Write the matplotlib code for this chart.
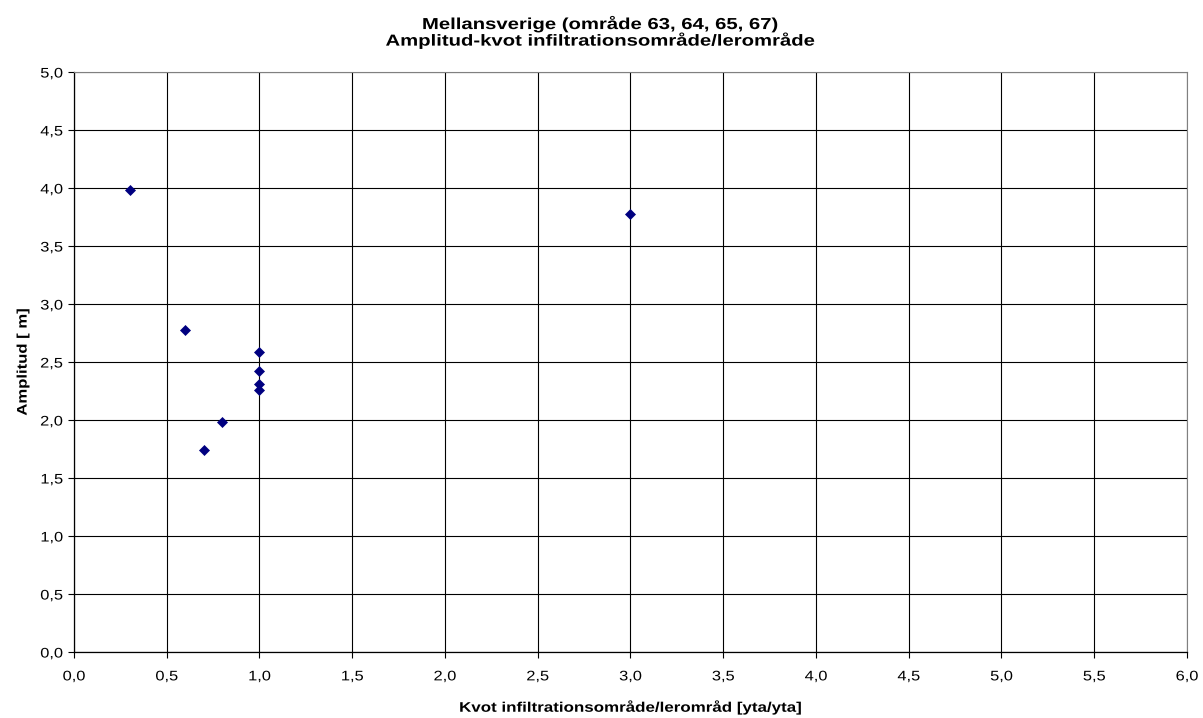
import matplotlib
matplotlib.use("Agg")
import matplotlib.pyplot as plt
from matplotlib.ticker import MultipleLocator, FuncFormatter
from matplotlib.patheffects import AbstractPathEffect
from matplotlib.transforms import Affine2D

# Ratio of infiltration area to clay area and the observed amplitude
kvot = [0.3, 0.6, 0.7, 0.8, 1.0, 1.0, 1.0, 1.0, 3.0]
amplitud = [3.98, 2.78, 1.74, 1.98, 2.59, 2.42, 2.31, 2.26, 3.78]

title_lines = ["Mellansverige (område 63, 64, 65, 67)",
               "Amplitud-kvot infiltrationsområde/lerområde"]
x_label = "Kvot infiltrationsområde/lerområd [yta/yta]"
y_label = "Amplitud [ m]"

plt.rcParams["font.family"] = ["Liberation Sans", "DejaVu Sans"]


class Widen(AbstractPathEffect):
    """Draw text glyphs stretched along the text direction."""

    def __init__(self, factor, anchor="center"):
        super().__init__()
        self.factor = factor
        self.anchor = anchor

    def draw_path(self, renderer, gc, tpath, affine, rgbFace=None):
        ext = tpath.get_extents()
        if self.anchor == "right":
            ax0 = ext.x1
        elif self.anchor == "left":
            ax0 = ext.x0
        else:
            ax0 = 0.5 * (ext.x0 + ext.x1)
        stretch = Affine2D().translate(-ax0, 0).scale(self.factor, 1).translate(ax0, 0)
        renderer.draw_path(gc, tpath, stretch + affine, rgbFace)


fig = plt.figure(figsize=(12.03, 7.18), dpi=100)
ax = fig.add_axes([0.0615, 0.0919, 0.9252, 0.8078])

ax.plot(kvot, amplitud, linestyle="none", marker="D", markersize=5.2,
        markerfacecolor="#000080", markeredgecolor="#000080",
        markeredgewidth=0.5, zorder=3, clip_on=False)

ax.set_xlim(0, 6)
ax.set_ylim(0, 5)
ax.xaxis.set_major_locator(MultipleLocator(0.5))
ax.yaxis.set_major_locator(MultipleLocator(0.5))
fmt = FuncFormatter(lambda v, p: f"{v:.1f}".replace(".", ","))
ax.xaxis.set_major_formatter(fmt)
ax.yaxis.set_major_formatter(fmt)

ax.grid(True, color="black", linewidth=0.8)
ax.set_axisbelow(True)
for side in ("top", "right"):
    ax.spines[side].set_color("#808080")
    ax.spines[side].set_linewidth(0.8)
for side in ("left", "bottom"):
    ax.spines[side].set_color("black")
    ax.spines[side].set_linewidth(0.9)

ax.tick_params(direction="out", length=4, width=0.8, labelsize=10)
ax.tick_params(axis="x", pad=8.5)
ax.tick_params(axis="y", pad=4)

ax.set_xlabel(x_label, fontsize=10, fontweight="bold", labelpad=11)
ax.set_ylabel(y_label, fontsize=10, fontweight="bold", labelpad=10)
# Title is centred on the whole figure rather than on the plot area
ax.set_title("\n".join(title_lines), fontsize=11.5, fontweight="bold",
             pad=19, linespacing=0.97, x=0.4735)

# Widen the lettering
for lab in ax.get_xticklabels():
    lab.set_path_effects([Widen(1.18, "center")])
for lab in ax.get_yticklabels():
    lab.set_path_effects([Widen(1.18, "right")])
ax.xaxis.label.set_path_effects([Widen(1.22, "center")])
ax.yaxis.label.set_path_effects([Widen(1.2, "center")])
ax.title.set_path_effects([Widen(1.27, "center")])

fig.savefig("out.png", dpi=100, facecolor="white")
